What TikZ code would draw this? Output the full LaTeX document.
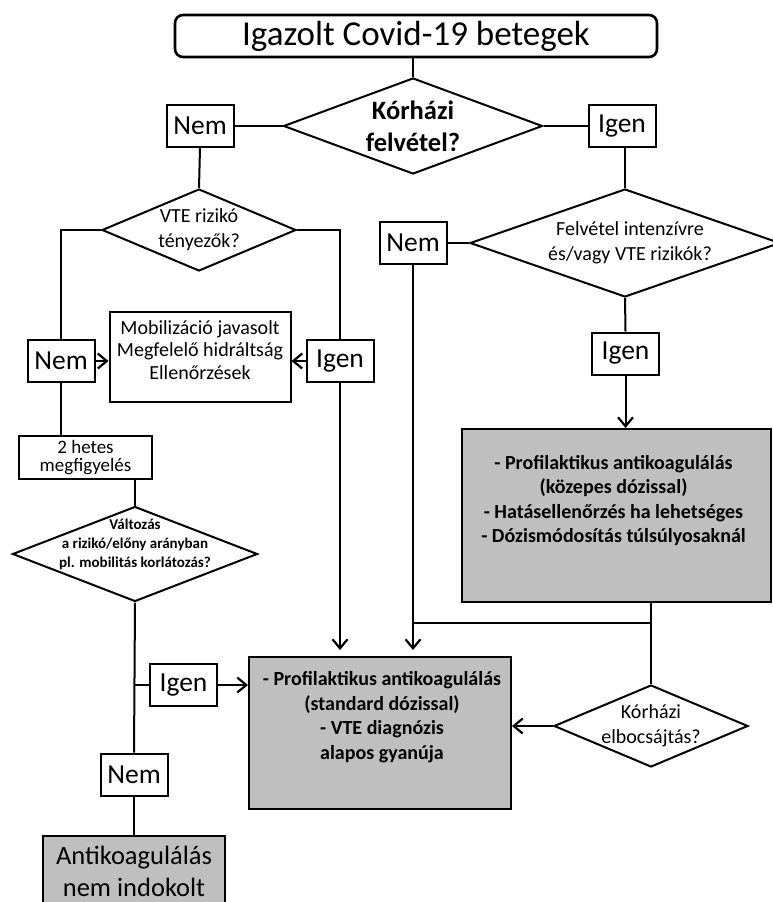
\documentclass[tikz,border=0pt]{standalone}
\usepackage{fontspec}
\setmainfont{Carlito}
\usetikzlibrary{shapes.geometric, arrows.meta, positioning, calc}

\begin{document}
\begin{tikzpicture}[
        x=1pt, y=-1pt,
        flow/.style={line width=2pt},
        arrow/.style={flow, -{Straight Barb[length=9pt, width=15pt, line width=2.2pt]}},
        answer/.style={
            rectangle,
            draw=black,
            line width=2pt,
            minimum width=67pt,
            minimum height=42pt,
            inner sep=0pt,
            font=\fontsize{27.5}{30}\selectfont
        },
        decision/.style={diamond, draw=black, line width=2pt, inner sep=0pt},
        qtext/.style={align=center, inner sep=0pt, font=\fontsize{20}{25}\selectfont},
        actionbox/.style={rectangle, draw=black, line width=2pt, inner sep=0pt},
        graybox/.style={actionbox, fill=black!25}
    ]
        \useasboundingbox (0,0) rectangle (772,902);
        % start and admission
        \node[actionbox, rounded corners=8pt, line width=2.6pt, minimum width=482pt, minimum height=42pt,
              font=\fontsize{35}{40}\selectfont] (start) at (416,36) {Igazolt Covid-19 betegek};
        \node[decision, minimum width=259pt, minimum height=96pt,
              label={[qtext, font=\fontsize{26.5}{32}\selectfont\bfseries]center:{Kórházi\\felvétel?}}] (admit) at (413,126) {};
        \node[answer] (no1) at (200,126) {Nem};
        \node[answer] (yes1) at (622,126) {Igen};

        % outpatient branch
        \node[decision, minimum width=194pt, minimum height=82pt,
              label={[qtext]center:{VTE rizikó\\tényezők?}}] (risk) at (199,230) {};
        \node[answer] (no3) at (61,361) {Nem};
        \node[answer] (yes2) at (340,361) {Igen};
        \node[actionbox, minimum width=181pt, minimum height=90pt,
              label={[qtext, font=\fontsize{20}{22.5}\selectfont, yshift=7pt]center:{Mobilizáció javasolt\\Megfelelő hidráltság\\Ellenőrzések}}] (mobil) at (200,357) {};
        \node[actionbox, minimum width=133pt, minimum height=43pt, align=center,
              font=\fontsize{19}{17.5}\selectfont] (watch) at (85.5,457.5) {2 hetes\\megfigyelés};
        \node[decision, minimum width=245pt, minimum height=95pt,
              label={[qtext, font=\fontsize{15}{19}\selectfont\bfseries, yshift=10pt]center:{Változás\\a rizikó/előny arányban\\pl. mobilitás korlátozás?}}] (change) at (135,554) {};
        \node[answer] (yes3) at (183.5,685) {Igen};
        \node[answer] (no4) at (134,774.5) {Nem};
        \node[graybox, minimum width=182pt, minimum height=70pt, align=center,
              font=\fontsize{26.5}{32}\selectfont] (none) at (134,871) {Antikoagulálás\\nem indokolt};

        % inpatient branch
        \node[decision, minimum width=310pt, minimum height=108pt,
              label={[qtext, xshift=5pt]center:{Felvétel intenzívre\\és/vagy VTE rizikók?}}] (icu) at (625,243) {};
        \node[answer] (no2) at (413,243) {Nem};
        \node[answer] (yes4) at (625.5,353.5) {Igen};
        \node[graybox, minimum width=309pt, minimum height=173pt,
              label={[qtext, font=\fontsize{20}{24.5}\selectfont\bfseries, xshift=-3pt, yshift=15pt]center:{- Profilaktikus antikoagulálás\\(közepes dózissal)\\- Hatásellenőrzés ha lehetséges\\- Dózismódosítás túlsúlyosaknál}}] (mid) at (616.5,515.5) {};
        \node[graybox, minimum width=262pt, minimum height=152pt,
              label={[qtext, font=\fontsize{20}{24.5}\selectfont\bfseries, xshift=2pt, yshift=16pt]center:{- Profilaktikus antikoagulálás\\(standard dózissal)\\- VTE diagnózis\\alapos gyanúja}}] (std) at (380,733) {};
        \node[decision, minimum width=194pt, minimum height=82pt,
              label={[qtext]center:{Kórházi\\elbocsájtás?}}] (leave) at (651,726) {};
        \coordinate (merge) at (651,623);

        % connectors
        \draw[flow] (admit.north |- start.south) -- (admit.north);
        \draw[flow] (admit.west) -- (no1.east);
        \draw[flow] (admit.east) -- (yes1.west);
        \draw[flow] (no1.south) -- (risk.north);
        \draw[flow] (icu.north |- yes1.south) -- (icu.north);
        \draw[flow] (risk.west) -| (no3.north);
        \draw[flow] (risk.east) -| (yes2.north);
        \draw[arrow] (no3.east) -- (no3.east -| mobil.west);
        \draw[arrow] (yes2.west) -- (yes2.west -| mobil.east);
        \draw[flow] (no3.south) -- (no3.south |- watch.north);
        \draw[flow] (change.north |- watch.south) -- (change.north);
        \draw[flow] (change.south) -- (no4.north);
        \draw[flow] (yes3.west -| change.south) -- (yes3.west);
        \draw[arrow] (yes3.east) -- (yes3.east -| std.west);
        \draw[flow] (no4.south) -- (none.north);
        \draw[arrow, shorten >=6pt] (yes2.south) -- (yes2.south |- std.north);
        \draw[flow] (icu.west) -- (no2.east);
        \draw[arrow, shorten >=6pt] (no2.south) -- (no2.south |- std.north);
        \draw[flow] (icu.south) -- (yes4.north);
        \draw[arrow] (yes4.south) -- (yes4.south |- mid.north);
        \draw[flow] (leave.north |- mid.south) -- (leave.north);
        \draw[flow] (merge) -- (merge -| no2.south);
        \draw[arrow] (leave.west) -- (leave.west -| std.east);
    \end{tikzpicture}
\end{document}
